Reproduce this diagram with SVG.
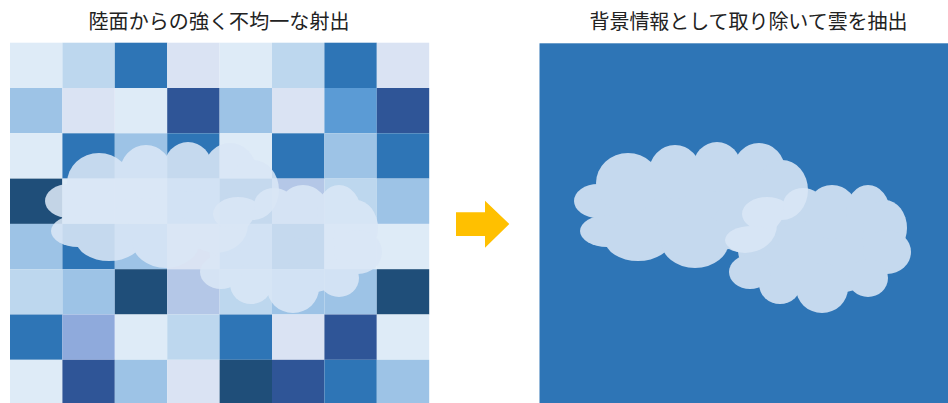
<svg xmlns="http://www.w3.org/2000/svg" xmlns:xlink="http://www.w3.org/1999/xlink" width="948" height="403" viewBox="0 0 948 403">
  <style>
    .title { font-family: "Noto Sans CJK JP", "Noto Sans", sans-serif; font-size: 20px; fill: #222222; text-anchor: middle; }
    .a { fill: #DEEBF7; } .b { fill: #DAE3F3; } .c { fill: #BDD7EE; } .d { fill: #9DC3E6; }
    .e { fill: #5B9BD5; } .f { fill: #2E75B6; } .g { fill: #2F5597; } .h { fill: #1F4E79; }
    .i { fill: #B4C7E7; } .j { fill: #8FAADC; }
    .cloud { fill: #DAE7F6; opacity: 0.88; }
    .arrow { fill: #FFC000; }
  </style>
  <defs>
    <!-- large cloud built from overlapping lobes -->
    <g id="cloudA">
      <ellipse cx="690" cy="208" rx="95" ry="45"/>
      <ellipse cx="598" cy="201" rx="24" ry="17"/>
      <ellipse cx="607" cy="231" rx="27" ry="16"/>
      <ellipse cx="628" cy="183" rx="32" ry="30"/>
      <ellipse cx="675" cy="172" rx="26" ry="27"/>
      <ellipse cx="717" cy="167" rx="24" ry="25"/>
      <ellipse cx="759" cy="170" rx="26" ry="27"/>
      <ellipse cx="782" cy="190" rx="26" ry="30"/>
      <ellipse cx="745" cy="225" rx="32" ry="28"/>
      <ellipse cx="638" cy="240" rx="33" ry="21"/>
      <ellipse cx="695" cy="241" rx="34" ry="27"/>
    </g>
    <!-- smaller cloud to the lower right -->
    <g id="cloudB">
      <ellipse cx="818" cy="250" rx="80" ry="45"/>
      <ellipse cx="767" cy="214" rx="25" ry="17"/>
      <ellipse cx="803" cy="205" rx="20" ry="17"/>
      <ellipse cx="832" cy="212" rx="26" ry="27"/>
      <ellipse cx="868" cy="212" rx="22" ry="27"/>
      <ellipse cx="885" cy="228" rx="22" ry="28"/>
      <ellipse cx="887" cy="252" rx="24" ry="22"/>
      <ellipse cx="868" cy="278" rx="20" ry="19"/>
      <ellipse cx="822" cy="288" rx="26" ry="25"/>
      <ellipse cx="780" cy="284" rx="21" ry="20"/>
      <ellipse cx="750" cy="272" rx="21" ry="17"/>
      <ellipse cx="752" cy="240" rx="27" ry="14"/>
    </g>
  </defs>

  <!-- left panel: patchwork land surface with clouds over it -->
  <g id="land-panel">
    <text class="title" x="219" y="28.5" textLength="261" lengthAdjust="spacing">陸面からの強く不均一な射出</text>
    <g id="land-grid">
      <!-- row 0 -->
      <rect class="a" x="10" y="42.7" width="52.4" height="45.3"/>
      <rect class="c" x="62.4" y="42.7" width="52.4" height="45.3"/>
      <rect class="f" x="114.8" y="42.7" width="52.4" height="45.3"/>
      <rect class="b" x="167.2" y="42.7" width="52.4" height="45.3"/>
      <rect class="a" x="219.6" y="42.7" width="52.4" height="45.3"/>
      <rect class="c" x="272" y="42.7" width="52.4" height="45.3"/>
      <rect class="f" x="324.4" y="42.7" width="52.4" height="45.3"/>
      <rect class="b" x="376.8" y="42.7" width="52.4" height="45.3"/>
      <!-- row 1 -->
      <rect class="d" x="10" y="88" width="52.4" height="45.3"/>
      <rect class="b" x="62.4" y="88" width="52.4" height="45.3"/>
      <rect class="a" x="114.8" y="88" width="52.4" height="45.3"/>
      <rect class="g" x="167.2" y="88" width="52.4" height="45.3"/>
      <rect class="d" x="219.6" y="88" width="52.4" height="45.3"/>
      <rect class="b" x="272" y="88" width="52.4" height="45.3"/>
      <rect class="e" x="324.4" y="88" width="52.4" height="45.3"/>
      <rect class="g" x="376.8" y="88" width="52.4" height="45.3"/>
      <!-- row 2 -->
      <rect class="a" x="10" y="133.3" width="52.4" height="45.3"/>
      <rect class="f" x="62.4" y="133.3" width="52.4" height="45.3"/>
      <rect class="d" x="114.8" y="133.3" width="52.4" height="45.3"/>
      <rect class="f" x="167.2" y="133.3" width="52.4" height="45.3"/>
      <rect class="a" x="219.6" y="133.3" width="52.4" height="45.3"/>
      <rect class="f" x="272" y="133.3" width="52.4" height="45.3"/>
      <rect class="d" x="324.4" y="133.3" width="52.4" height="45.3"/>
      <rect class="f" x="376.8" y="133.3" width="52.4" height="45.3"/>
      <!-- row 3 -->
      <rect class="h" x="10" y="178.6" width="52.4" height="45.3"/>
      <rect class="a" x="62.4" y="178.6" width="52.4" height="45.3"/>
      <rect class="a" x="114.8" y="178.6" width="52.4" height="45.3"/>
      <rect class="d" x="167.2" y="178.6" width="52.4" height="45.3"/>
      <rect class="f" x="219.6" y="178.6" width="52.4" height="45.3"/>
      <rect class="i" x="272" y="178.6" width="52.4" height="45.3"/>
      <rect class="c" x="324.4" y="178.6" width="52.4" height="45.3"/>
      <rect class="d" x="376.8" y="178.6" width="52.4" height="45.3"/>
      <!-- row 4 -->
      <rect class="d" x="10" y="223.9" width="52.4" height="45.3"/>
      <rect class="f" x="62.4" y="223.9" width="52.4" height="45.3"/>
      <rect class="d" x="114.8" y="223.9" width="52.4" height="45.3"/>
      <rect class="b" x="167.2" y="223.9" width="52.4" height="45.3"/>
      <rect class="d" x="219.6" y="223.9" width="52.4" height="45.3"/>
      <rect class="f" x="272" y="223.9" width="52.4" height="45.3"/>
      <rect class="a" x="324.4" y="223.9" width="52.4" height="45.3"/>
      <rect class="a" x="376.8" y="223.9" width="52.4" height="45.3"/>
      <!-- row 5 -->
      <rect class="c" x="10" y="269.2" width="52.4" height="45.3"/>
      <rect class="d" x="62.4" y="269.2" width="52.4" height="45.3"/>
      <rect class="h" x="114.8" y="269.2" width="52.4" height="45.3"/>
      <rect class="i" x="167.2" y="269.2" width="52.4" height="45.3"/>
      <rect class="c" x="219.6" y="269.2" width="52.4" height="45.3"/>
      <rect class="d" x="272" y="269.2" width="52.4" height="45.3"/>
      <rect class="d" x="324.4" y="269.2" width="52.4" height="45.3"/>
      <rect class="h" x="376.8" y="269.2" width="52.4" height="45.3"/>
      <!-- row 6 -->
      <rect class="f" x="10" y="314.5" width="52.4" height="45.3"/>
      <rect class="j" x="62.4" y="314.5" width="52.4" height="45.3"/>
      <rect class="a" x="114.8" y="314.5" width="52.4" height="45.3"/>
      <rect class="c" x="167.2" y="314.5" width="52.4" height="45.3"/>
      <rect class="f" x="219.6" y="314.5" width="52.4" height="45.3"/>
      <rect class="b" x="272" y="314.5" width="52.4" height="45.3"/>
      <rect class="g" x="324.4" y="314.5" width="52.4" height="45.3"/>
      <rect class="a" x="376.8" y="314.5" width="52.4" height="45.3"/>
      <!-- row 7 -->
      <rect class="a" x="10" y="359.8" width="52.4" height="45.3"/>
      <rect class="g" x="62.4" y="359.8" width="52.4" height="45.3"/>
      <rect class="d" x="114.8" y="359.8" width="52.4" height="45.3"/>
      <rect class="b" x="167.2" y="359.8" width="52.4" height="45.3"/>
      <rect class="h" x="219.6" y="359.8" width="52.4" height="45.3"/>
      <rect class="g" x="272" y="359.8" width="52.4" height="45.3"/>
      <rect class="f" x="324.4" y="359.8" width="52.4" height="45.3"/>
      <rect class="d" x="376.8" y="359.8" width="52.4" height="45.3"/>
    </g>
    <g id="land-clouds" transform="translate(-529 0)">
      <use class="cloud" href="#cloudA" xlink:href="#cloudA"/>
      <use class="cloud" href="#cloudB" xlink:href="#cloudB"/>
    </g>
  </g>

  <!-- right panel: uniform background with the extracted clouds -->
  <g id="cloud-panel">
    <text class="title" x="748.5" y="28.5" textLength="318" lengthAdjust="spacing">背景情報として取り除いて雲を抽出</text>
    <rect class="f" x="539.5" y="43.3" width="408.5" height="360"/>
    <use class="cloud" href="#cloudA" xlink:href="#cloudA"/>
    <use class="cloud" href="#cloudB" xlink:href="#cloudB"/>
  </g>

  <g id="connectors">
    <polygon class="arrow" points="456,212.3 485,212.3 485,200.7 509.3,224 485,247.7 485,236 456,236"/>
  </g>
</svg>
